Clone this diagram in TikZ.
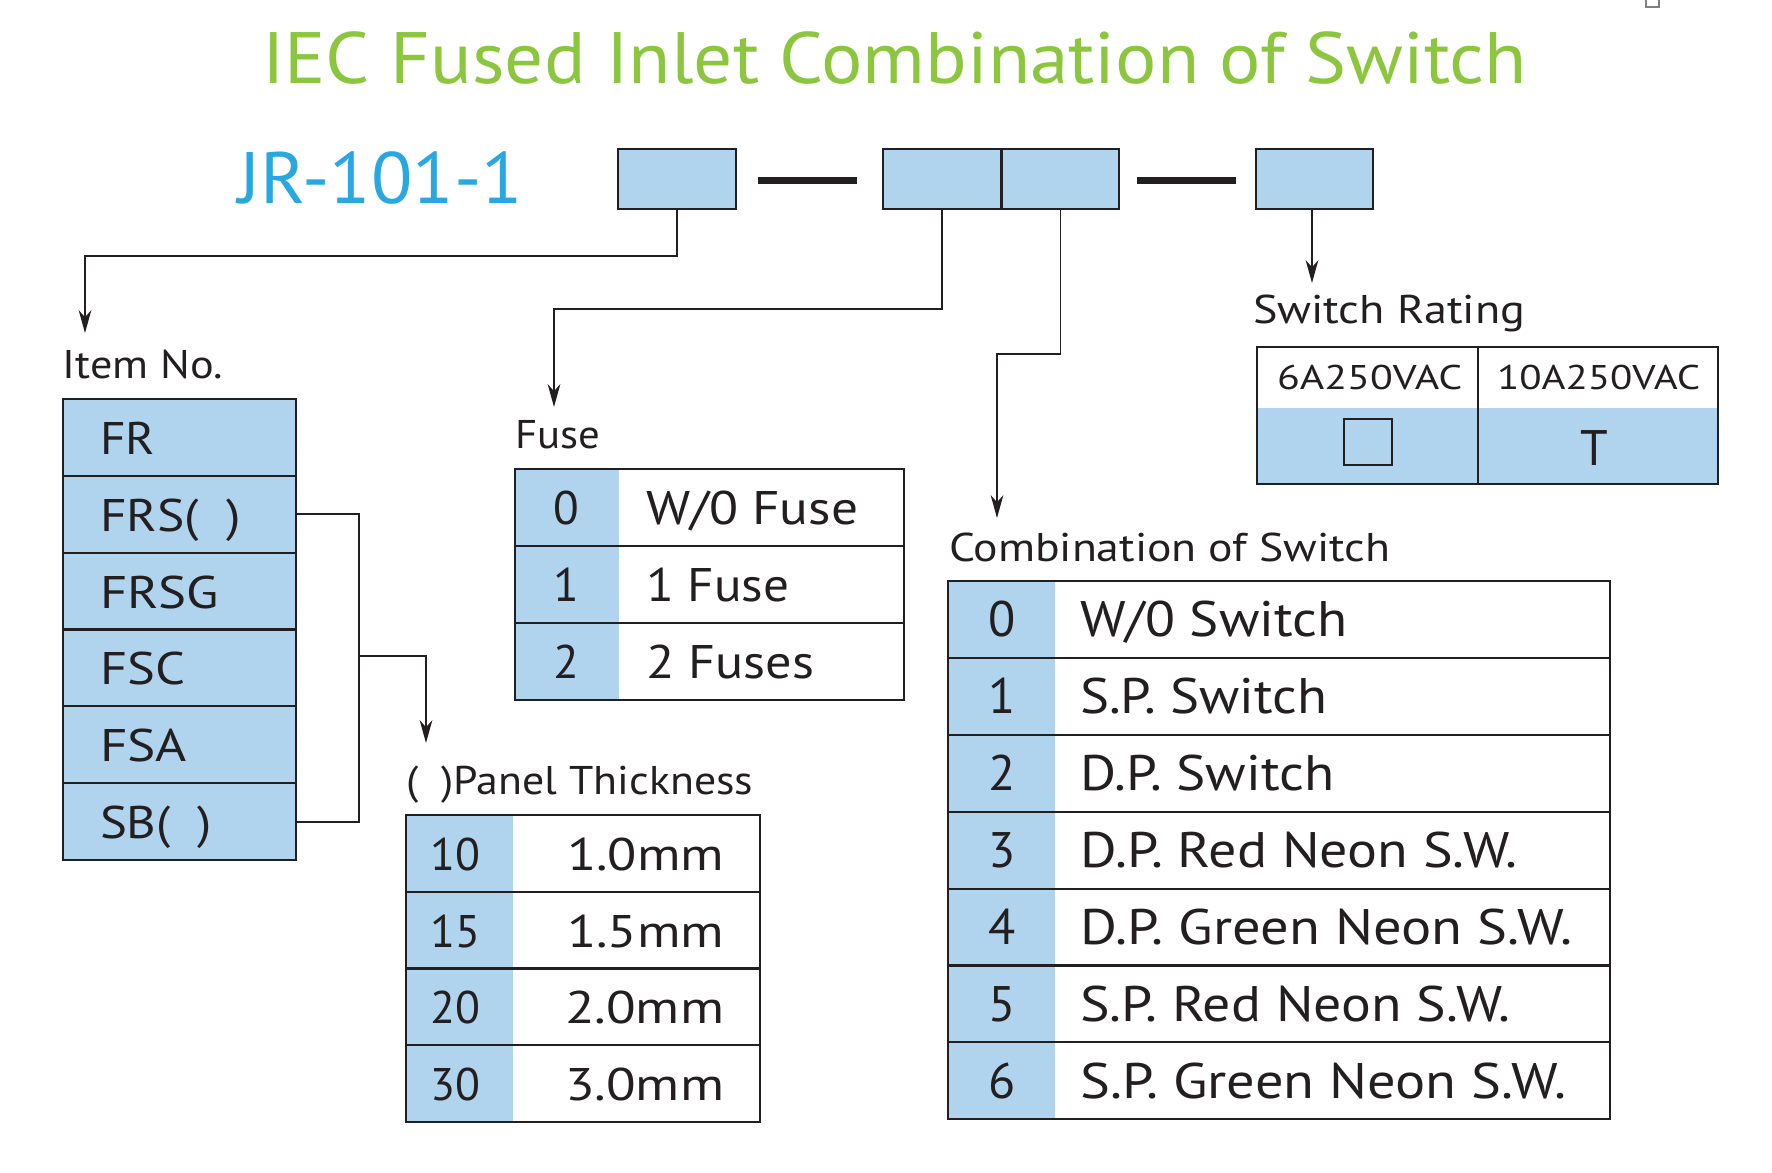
\documentclass[tikz,border=0pt]{standalone}
\usepackage{fontspec}
\setmainfont{PT Sans}
\usepackage{graphicx}
\usetikzlibrary{arrows.meta}
\definecolor{tgreen}{RGB}{140,198,63}
\definecolor{tblue}{RGB}{41,167,224}
\definecolor{cellblue}{RGB}{176,211,238}
\definecolor{ink}{RGB}{35,31,32}
\newcommand\fw[2]{\resizebox{#1}{\height}{#2}}
\newcommand\fsTitle{\fontsize{20.7pt}{24pt}\selectfont}
\newcommand\fsLbl{\fontsize{11.4pt}{13pt}\selectfont}
\newcommand\fsItem{\fontsize{13pt}{15pt}\selectfont}
\newcommand\fsFuse{\fontsize{13.4pt}{15pt}\selectfont}
\newcommand\fsComb{\fontsize{14.2pt}{16pt}\selectfont}
\newcommand\fsHdr{\fontsize{9.75pt}{11pt}\selectfont}
\tikzset{
  codebox/.style={draw=ink, line width=0.7pt, fill=cellblue, inner sep=0, outer sep=0, anchor=north west, minimum height=0.60cm},
  itemcell/.style={draw=ink, line width=0.6pt, fill=cellblue, inner sep=0, outer sep=0, anchor=north west, minimum width=2.33cm, minimum height=0.768cm},
  tabrow/.style={draw=ink, line width=0.6pt, fill=white, inner sep=0, outer sep=0, anchor=north west},
  bluecol/.style={path picture={\fill[cellblue] (path picture bounding box.north west) rectangle ([xshift=#1]path picture bounding box.south west);}},
  bluelow/.style={path picture={\fill[cellblue] ([yshift=-#1]path picture bounding box.north west) rectangle (path picture bounding box.south east);}},
  txt/.style={inner sep=0, outer sep=0, text=ink, anchor=base west},
  num/.style={txt, anchor=base},
  lbl/.style={txt, font=\fsLbl},
  conn/.style={draw=ink, line width=0.5pt, -{Stealth[length=6.5pt,width=3.6pt,inset=2pt]}},
  wire/.style={draw=ink, line width=0.5pt},
  dashbar/.style={draw=ink, line width=2pt},
}
\begin{document}
\begin{tikzpicture}[x=0.01cm, y=-0.01cm]
\useasboundingbox (0,0) rectangle (1772,1172);
\fill[white] (0,0) rectangle (1772,1172);
\draw[gray, line width=0.4pt] (1646,-1) rectangle (1659,7);

% title and code
\node[txt, text=tgreen, font=\fsTitle] (title) at (262,83) {\fw{12.64cm}{IEC Fused Inlet Combination of Switch}};
\node[txt, text=tblue, font=\fsTitle] (jr) at (238,203) {\fw{2.85cm}{JR-101-1}};

\node[codebox, minimum width=1.18cm] (b1) at (618,149) {};
\node[codebox, minimum width=1.18cm] (b2) at (883,149) {};
\node[codebox, minimum width=1.17cm] (b3) at (1002,149) {};
\node[codebox, minimum width=1.17cm] (b4) at (1256,149) {};
\draw[dashbar] ([xshift=0.22cm,yshift=-0.01cm]b1.east) -- ([xshift=-0.26cm,yshift=-0.01cm]b2.west);
\draw[dashbar] ([xshift=0.18cm,yshift=-0.01cm]b3.east) -- ([xshift=-0.20cm,yshift=-0.01cm]b4.west);

% labels
\node[lbl] (itemlbl) at (63,378) {\fw{1.60cm}{Item No.}};
\node[lbl] (fuselbl) at (515,448) {\fw{0.85cm}{Fuse}};
\node[lbl] (panellbl) at (406,794) {\fw{3.47cm}{(\ \ )Panel Thickness}};
\node[lbl] (srlbl) at (1253,323) {\fw{2.72cm}{Switch Rating}};
\node[lbl] (cslbl) at (949,561) {\fw{4.41cm}{Combination of Switch}};

% connectors from code boxes
\coordinate (e1) at (85,256);   \coordinate (a1) at (85,333);
\coordinate (e2) at (554,309);  \coordinate (a2) at (554,407);
\coordinate (e3) at (997,354);  \coordinate (a3) at (997,518);
\coordinate (a4) at (1312,283);
\draw[conn] (b1.south) |- (e1) -- (a1);
\draw[conn] (b2.south) |- (e2) -- (a2);
\draw[conn] (b3.south) |- (e3) -- (a3);
\draw[conn] (b4.south -| a4) -- (a4);

% Item No. table
\node[itemcell] (it1) at (63,399) {};
\node[itemcell] (it2) at (63,475.8) {};
\node[itemcell] (it3) at (63,552.7) {};
\node[itemcell] (it4) at (63,629.5) {};
\node[itemcell] (it5) at (63,706.3) {};
\node[itemcell] (it6) at (63,783.2) {};
\node[txt, font=\fsItem] (it1t) at ([xshift=0.37cm,yshift=-0.17cm]it1.west) {\fw{0.55cm}{FR}};
\node[txt, font=\fsItem] (it2t) at ([xshift=0.37cm,yshift=-0.17cm]it2.west) {\fw{1.41cm}{FRS(\ \ )}};
\node[txt, font=\fsItem] (it3t) at ([xshift=0.37cm,yshift=-0.17cm]it3.west) {\fw{1.19cm}{FRSG}};
\node[txt, font=\fsItem] (it4t) at ([xshift=0.37cm,yshift=-0.17cm]it4.west) {\fw{0.85cm}{FSC}};
\node[txt, font=\fsItem] (it5t) at ([xshift=0.37cm,yshift=-0.17cm]it5.west) {\fw{0.87cm}{FSA}};
\node[txt, font=\fsItem] (it6t) at ([xshift=0.37cm,yshift=-0.17cm]it6.west) {\fw{1.12cm}{SB(\ \ )}};

% bracket to panel thickness
\coordinate (bkx) at (359,660);
\coordinate (bm) at (359,656);
\coordinate (a5) at (426,743);
\draw[wire] (it2.east) -| (bkx) |- (it6.east);
\draw[conn] (bm) -| (a5);

% Fuse table
\node[tabrow, minimum width=3.89cm, minimum height=0.77cm, bluecol=1.04cm] (fu0) at (515,469) {};
\node[tabrow, minimum width=3.89cm, minimum height=0.77cm, bluecol=1.04cm] (fu1) at (515,546) {};
\node[tabrow, minimum width=3.89cm, minimum height=0.77cm, bluecol=1.04cm] (fu2) at (515,623) {};
\node[num, font=\fsFuse] (fu0n) at ([xshift=0.51cm,yshift=-0.17cm]fu0.west) {0};
\node[num, font=\fsFuse] (fu1n) at ([xshift=0.51cm,yshift=-0.17cm]fu1.west) {1};
\node[num, font=\fsFuse] (fu2n) at ([xshift=0.51cm,yshift=-0.17cm]fu2.west) {2};
\node[txt, font=\fsFuse] (fu0t) at ([xshift=1.31cm,yshift=-0.17cm]fu0.west) {\fw{2.12cm}{W/0 Fuse}};
\node[txt, font=\fsFuse] (fu1t) at ([xshift=1.31cm,yshift=-0.17cm]fu1.west) {\fw{1.43cm}{1 Fuse}};
\node[txt, font=\fsFuse] (fu2t) at ([xshift=1.31cm,yshift=-0.17cm]fu2.west) {\fw{1.68cm}{2 Fuses}};

% Panel thickness table
\node[tabrow, minimum width=3.54cm, minimum height=0.7675cm, bluecol=1.07cm] (pt1) at (406,815) {};
\node[tabrow, minimum width=3.54cm, minimum height=0.7675cm, bluecol=1.07cm] (pt2) at (406,891.75) {};
\node[tabrow, minimum width=3.54cm, minimum height=0.7675cm, bluecol=1.07cm] (pt3) at (406,968.5) {};
\node[tabrow, minimum width=3.54cm, minimum height=0.7675cm, bluecol=1.07cm] (pt4) at (406,1045.25) {};
\node[num, font=\fsItem] (pt1n) at ([xshift=0.49cm,yshift=-0.17cm]pt1.west) {10};
\node[num, font=\fsItem] (pt2n) at ([xshift=0.49cm,yshift=-0.17cm]pt2.west) {15};
\node[num, font=\fsItem] (pt3n) at ([xshift=0.49cm,yshift=-0.17cm]pt3.west) {20};
\node[num, font=\fsItem] (pt4n) at ([xshift=0.49cm,yshift=-0.17cm]pt4.west) {30};
\node[txt, font=\fsItem] (pt1t) at ([xshift=1.61cm,yshift=-0.17cm]pt1.west) {\fw{1.57cm}{1.0mm}};
\node[txt, font=\fsItem] (pt2t) at ([xshift=1.61cm,yshift=-0.17cm]pt2.west) {\fw{1.57cm}{1.5mm}};
\node[txt, font=\fsItem] (pt3t) at ([xshift=1.59cm,yshift=-0.17cm]pt3.west) {\fw{1.59cm}{2.0mm}};
\node[txt, font=\fsItem] (pt4t) at ([xshift=1.59cm,yshift=-0.17cm]pt4.west) {\fw{1.59cm}{3.0mm}};

% Switch rating table
\node[tabrow, minimum width=2.21cm, minimum height=1.37cm, bluelow=0.61cm] (sr1) at (1257,347) {};
\node[tabrow, minimum width=2.40cm, minimum height=1.37cm, bluelow=0.61cm] (sr2) at (1478,347) {};
\node[txt, font=\fsHdr] (h1) at (1277,389) {\fw{1.85cm}{6A250VAC}};
\node[txt, font=\fsHdr] (h2) at (1497,389) {\fw{2.03cm}{10A250VAC}};
\node[draw=ink, line width=0.6pt, minimum width=0.48cm, minimum height=0.46cm, inner sep=0] (sq) at (1368,442) {};
\node[num, font=\fsComb] (tt) at (1594,465) {T};

% Combination of switch table
\node[tabrow, minimum width=6.62cm, minimum height=0.769cm, bluecol=1.07cm] (cs0) at (948,581) {};
\node[tabrow, minimum width=6.62cm, minimum height=0.769cm, bluecol=1.07cm] (cs1) at (948,657.9) {};
\node[tabrow, minimum width=6.62cm, minimum height=0.769cm, bluecol=1.07cm] (cs2) at (948,734.8) {};
\node[tabrow, minimum width=6.62cm, minimum height=0.769cm, bluecol=1.07cm] (cs3) at (948,811.7) {};
\node[tabrow, minimum width=6.62cm, minimum height=0.769cm, bluecol=1.07cm] (cs4) at (948,888.6) {};
\node[tabrow, minimum width=6.62cm, minimum height=0.769cm, bluecol=1.07cm] (cs5) at (948,965.5) {};
\node[tabrow, minimum width=6.62cm, minimum height=0.769cm, bluecol=1.07cm] (cs6) at (948,1042.4) {};
\node[num, font=\fsComb] (cs0n) at ([xshift=0.54cm,yshift=-0.175cm]cs0.west) {0};
\node[num, font=\fsComb] (cs1n) at ([xshift=0.54cm,yshift=-0.175cm]cs1.west) {1};
\node[num, font=\fsComb] (cs2n) at ([xshift=0.54cm,yshift=-0.175cm]cs2.west) {2};
\node[num, font=\fsComb] (cs3n) at ([xshift=0.54cm,yshift=-0.175cm]cs3.west) {3};
\node[num, font=\fsComb] (cs4n) at ([xshift=0.54cm,yshift=-0.175cm]cs4.west) {4};
\node[num, font=\fsComb] (cs5n) at ([xshift=0.54cm,yshift=-0.175cm]cs5.west) {5};
\node[num, font=\fsComb] (cs6n) at ([xshift=0.54cm,yshift=-0.175cm]cs6.west) {6};
\node[txt, font=\fsComb] (cs0t) at ([xshift=1.32cm,yshift=-0.175cm]cs0.west) {\fw{2.67cm}{W/0 Switch}};
\node[txt, font=\fsComb] (cs1t) at ([xshift=1.32cm,yshift=-0.175cm]cs1.west) {\fw{2.47cm}{S.P. Switch}};
\node[txt, font=\fsComb] (cs2t) at ([xshift=1.32cm,yshift=-0.175cm]cs2.west) {\fw{2.54cm}{D.P. Switch}};
\node[txt, font=\fsComb] (cs3t) at ([xshift=1.32cm,yshift=-0.175cm]cs3.west) {\fw{4.37cm}{D.P. Red Neon S.W.}};
\node[txt, font=\fsComb] (cs4t) at ([xshift=1.32cm,yshift=-0.175cm]cs4.west) {\fw{4.92cm}{D.P. Green Neon S.W.}};
\node[txt, font=\fsComb] (cs5t) at ([xshift=1.32cm,yshift=-0.175cm]cs5.west) {\fw{4.30cm}{S.P. Red Neon S.W.}};
\node[txt, font=\fsComb] (cs6t) at ([xshift=1.32cm,yshift=-0.175cm]cs6.west) {\fw{4.86cm}{S.P. Green Neon S.W.}};
\end{tikzpicture}
\end{document}
